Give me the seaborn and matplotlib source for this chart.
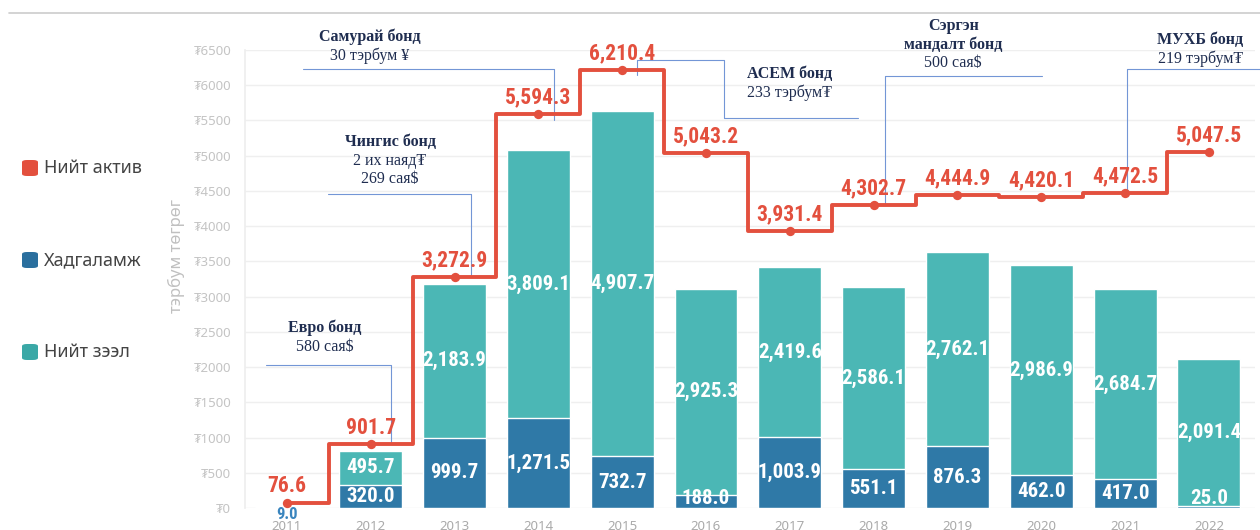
import numpy as np
import pandas as pd
import matplotlib
matplotlib.use('Agg')
import matplotlib.pyplot as plt
from matplotlib.patches import FancyBboxPatch
import seaborn as sns

# ---- data ----
years = ['2011', '2012', '2013', '2014', '2015', '2016',
         '2017', '2018', '2019', '2020', '2021', '2022']
total_assets = [76.6, 901.7, 3272.9, 5594.3, 6210.4, 5043.2,
                3931.4, 4302.7, 4444.9, 4420.1, 4472.5, 5047.5]
deposits = [9.0, 320.0, 999.7, 1271.5, 732.7, 188.0,
            1003.9, 551.1, 876.3, 462.0, 417.0, 25.0]
loans = [0.0, 495.7, 2183.9, 3809.1, 4907.7, 2925.3,
         2419.6, 2586.1, 2762.1, 2986.9, 2684.7, 2091.4]
legend_labels = ['Нийт актив', 'Хадгаламж', 'Нийт зээл']
y_label = 'тэрбум төгрөг'

# bond notes: title lines, amount lines
bond_titles = ['Евро бонд', 'Чингис бонд', 'Самурай бонд', 'АСЕМ бонд',
               'Сэргэн\nмандалт бонд', 'МУХБ бонд']
bond_amounts = ['580 сая$', '2 их наяд₮\n269 сая$', '30 тэрбум ¥',
                '233 тэрбум₮', '500 сая$', '219 тэрбум₮']

RED = '#E3503E'
BLUE = '#2F79A7'
TEAL = '#4BB7B5'
NOTE_LINE = '#7396D6'
NAVY = '#1F2D50'

sns.set_theme(style='white')
plt.rcParams['font.family'] = ['Noto Sans', 'DejaVu Sans']

df = pd.DataFrame({'year': years, 'dep': deposits, 'loan': loans})
df['stack'] = df['dep'] + df['loan']
pos = np.arange(len(years))

fig = plt.figure(figsize=(12.6, 5.3), dpi=100)
ax = fig.add_axes([245 / 1260, 22 / 530, 1010 / 1260, 458 / 530])

# stacked bars: full stack in teal, deposits drawn over it
sns.barplot(data=df, x='year', y='stack', color=TEAL, saturation=1,
            width=0.75, edgecolor='white', linewidth=1, ax=ax, zorder=2)
sns.barplot(data=df, x='year', y='dep', color=BLUE, saturation=1,
            width=0.75, edgecolor='white', linewidth=1, ax=ax, zorder=2)

# total assets step line
sns.lineplot(x=pos, y=total_assets, drawstyle='steps-mid', color=RED,
             linewidth=2.8, ax=ax, zorder=4)
ax.scatter(pos, total_assets, s=45, color=RED, zorder=5, linewidths=0)

num_font = dict(family=['Roboto Condensed', 'DejaVu Sans'], fontstretch='condensed',
                fontweight='bold')

for i, v in enumerate(total_assets):
    ax.annotate(f'{v:,.1f}', (i, v), xytext=(0, 12), textcoords='offset points',
                ha='center', va='center', fontsize=15.5, color=RED, zorder=6, **num_font)

for i, (d, l) in enumerate(zip(deposits, loans)):
    if d < 10:
        ax.annotate(f'{d:,.1f}', (i, 0), xytext=(0, -5), textcoords='offset points',
                    ha='center', va='center', fontsize=12, color='#3A85BE',
                    zorder=6, **num_font)
    else:
        ax.text(i, max(d / 2, 140), f'{d:,.1f}', ha='center', va='center',
                fontsize=15, color='white', zorder=6, **num_font)
    if l > 0:
        ax.text(i, d + l / 2, f'{l:,.1f}', ha='center', va='center',
                fontsize=15, color='white', zorder=6, **num_font)

# bond notes: (text x, first line y, connector path in (x, y))
notes = [
    (0.45, 2555, [(-0.25, 2029), (1.24, 2029), (1.24, 901.7)]),
    (1.23, 5194, [(0.49, 4456), (2.2, 4456), (2.2, 3272.9)]),
    (0.99, 6685, [(0.19, 6230), (3.19, 6230), (3.19, 5500)]),
    (6.0, 6159, [(4.18, 6145), (4.18, 6358), (5.22, 6358), (5.22, 5535), (6.81, 5535)]),
    (7.95, 6841, [(9.01, 6131), (7.14, 6131), (7.14, 4302.7)]),
    (10.9, 6642, [(11.62, 6230), (10.02, 6230), (10.02, 4472.5)]),
]
line_step = 263  # ~18.5 px in data units
serif = ['Liberation Serif', 'DejaVu Serif']
for (tx, ty, path), title, amount in zip(notes, bond_titles, bond_amounts):
    lines = [(t, 'bold') for t in title.split('\n')] + \
            [(t, 'normal') for t in amount.split('\n')]
    for k, (txt, w) in enumerate(lines):
        ax.text(tx, ty - k * line_step, txt, ha='center', va='center',
                fontsize=11.5, fontweight=w, color=NAVY, family=serif,
                clip_on=False)
    xs, ys = zip(*path)
    ax.plot(xs, ys, color=NOTE_LINE, lw=0.8, zorder=3, clip_on=False)

# axes styling
ax.set_xlim(-0.5, 11.55)
ax.set_ylim(0, 6500)
yt = list(range(0, 7000, 500))
ax.set_yticks(yt)
ax.set_yticklabels([f'₮{v}' for v in yt])
ax.grid(axis='y', color='#efefef', linewidth=1, zorder=0)
ax.set_axisbelow(True)
for s in ['top', 'right', 'bottom']:
    ax.spines[s].set_visible(False)
ax.spines['left'].set_color('#eeeeee')
ax.tick_params(axis='y', colors='#e2e2e2', length=5, width=1,
               labelcolor='#c4c4c4', labelsize=9.5, pad=5)
ax.tick_params(axis='x', colors='#e6e6e6', length=5, width=1,
               labelcolor='#aaaaaa', labelsize=9.5, pad=4)
ax.set_xlabel('')
ax.set_ylabel('')
fig.text(176 / 1260, 1 - 256 / 530, y_label, rotation=90, ha='center',
         va='center', fontsize=12, color='#c0c0c0')

# top rule
fig.add_artist(plt.Line2D([9 / 1260, 1], [1 - 13 / 530] * 2,
                          color='#cccccc', lw=1.2))

# legend on the left
for lab, col, yy in zip(legend_labels, [RED, '#2A6F9E', '#3AA8A6'], [168, 260, 352]):
    box = FancyBboxPatch((22 / 1260, 1 - (yy + 8) / 530), 16 / 1260, 16 / 530,
                         boxstyle='round,pad=0,rounding_size=0.004',
                         transform=fig.transFigure, facecolor=col, edgecolor='none')
    fig.add_artist(box)
    fig.text(44 / 1260, 1 - yy / 530, lab, ha='left', va='center',
             fontsize=13, color='#444444')

fig.savefig('out.png', dpi=100)
